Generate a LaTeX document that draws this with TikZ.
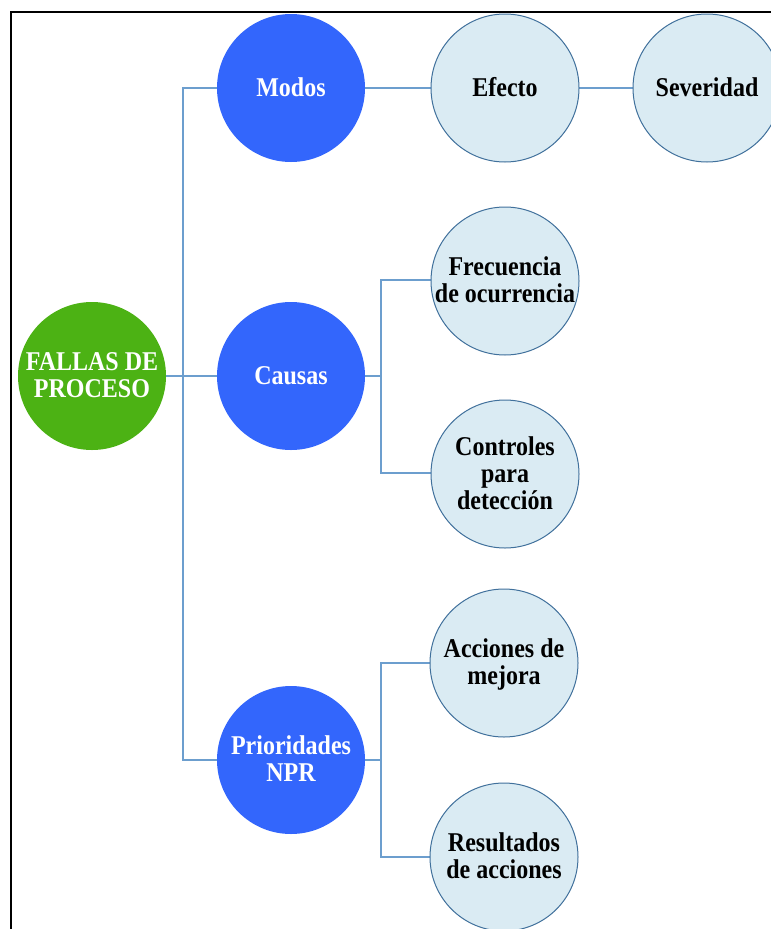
\documentclass[tikz,border=0pt]{standalone}
\usepackage{graphicx}
\usepackage{fontspec}
\setmainfont{Liberation Serif}
\definecolor{rootgreen}{RGB}{76,178,20}
\definecolor{mainblue}{RGB}{51,102,252}
\definecolor{leaffill}{RGB}{218,235,243}
\definecolor{leafedge}{RGB}{65,113,156}
\definecolor{linkblue}{RGB}{108,158,206}
% tall, slightly condensed bold lettering
\newcommand\talltext[1]{\scalebox{1}[1.13]{\begin{tabular}{@{}c@{}}#1\end{tabular}}}
\tikzset{
  bubble/.style={circle, minimum size=148pt, inner sep=0pt},
  rootnode/.style={bubble, fill=rootgreen},
  mainnode/.style={bubble, fill=mainblue},
  leafnode/.style={bubble, fill=leaffill, draw=leafedge, line width=1pt},
  lighttxt/.style={text=white, font=\fontsize{24}{24}\selectfont\bfseries, inner sep=0pt, yshift=-3pt},
  darktxt/.style={text=black, font=\fontsize{24}{24}\selectfont\bfseries, inner sep=0pt, yshift=-3pt},
  conn/.style={draw=linkblue, line width=1.5pt},
  frame/.style={draw=black, line width=2.8pt}
}
\begin{document}
\begin{tikzpicture}[x=1pt, y=-1pt]
  \useasboundingbox (0,0) rectangle (771,929);
  \fill[white] (0,0) rectangle (771,929);
  \clip (0,0) rectangle (771,929);

  % junction points of the tree
  \coordinate (j1) at (183,376);
  \coordinate (j2) at (381,376);

  % connectors (drawn first, bubbles cover their ends)
  \coordinate (fallasC) at (92,376);
  \coordinate (causasC) at (291,376);
  \draw[conn] (fallasC) -- (causasC);
  \coordinate (modosC) at (291,88);
  \coordinate (prioC) at (291,760);
  \draw[conn] (modosC) -- (modosC -| j1) -- (prioC -| j1) -- (prioC);
  \coordinate (efectoC) at (505,88);
  \coordinate (sevC) at (707,88);
  \draw[conn] (modosC) -- (efectoC) -- (sevC);
  \coordinate (frecC) at (505,280);
  \coordinate (ctrlC) at (505,473);
  \draw[conn] (causasC) -- (j2);
  \draw[conn] (frecC) -- (frecC -| j2) -- (ctrlC -| j2) -- (ctrlC);
  \coordinate (accC) at (504,663);
  \coordinate (resC) at (504,857);
  \draw[conn] (prioC) -- (prioC -| j2);
  \draw[conn] (accC) -- (accC -| j2) -- (resC -| j2) -- (resC);

  % bubbles
  \node[rootnode] (fallas) at (fallasC) {};
  \node[mainnode] (modos)  at (modosC) {};
  \node[mainnode] (causas) at (causasC) {};
  \node[mainnode] (prio)   at (prioC) {};
  \node[leafnode] (efecto) at (efectoC) {};
  \node[leafnode] (sev)    at (sevC) {};
  \node[leafnode] (frec)   at (505,281) {};
  \node[leafnode] (ctrl)   at (505,474) {};
  \node[leafnode] (acc)    at (accC) {};
  \node[leafnode] (res)    at (resC) {};

  % labels
  \node[lighttxt] (fallasT) at (fallas) {\talltext{FALLAS DE\\PROCESO}};
  \node[lighttxt] (modosT)  at (modos)  {\talltext{Modos}};
  \node[lighttxt] (causasT) at (causas) {\talltext{Causas}};
  \node[lighttxt] (prioT)   at (prio)   {\talltext{Prioridades\\NPR}};
  \node[darktxt]  (efectoT) at (efecto) {\talltext{Efecto}};
  \node[darktxt]  (sevT)    at (sev)    {\talltext{Severidad}};
  \node[darktxt]  (frecT)   at (frec)   {\talltext{Frecuencia\\de ocurrencia}};
  \node[darktxt]  (ctrlT)   at (ctrl)   {\talltext{Controles\\para\\detección}};
  \node[darktxt]  (accT)    at (acc)    {\talltext{Acciones de\\mejora}};
  \node[darktxt]  (resT)    at (res)    {\talltext{Resultados\\de acciones}};

  % outer frame
  \draw[frame] (11,929) -- (11,12) -- (771,12);
\end{tikzpicture}
\end{document}
